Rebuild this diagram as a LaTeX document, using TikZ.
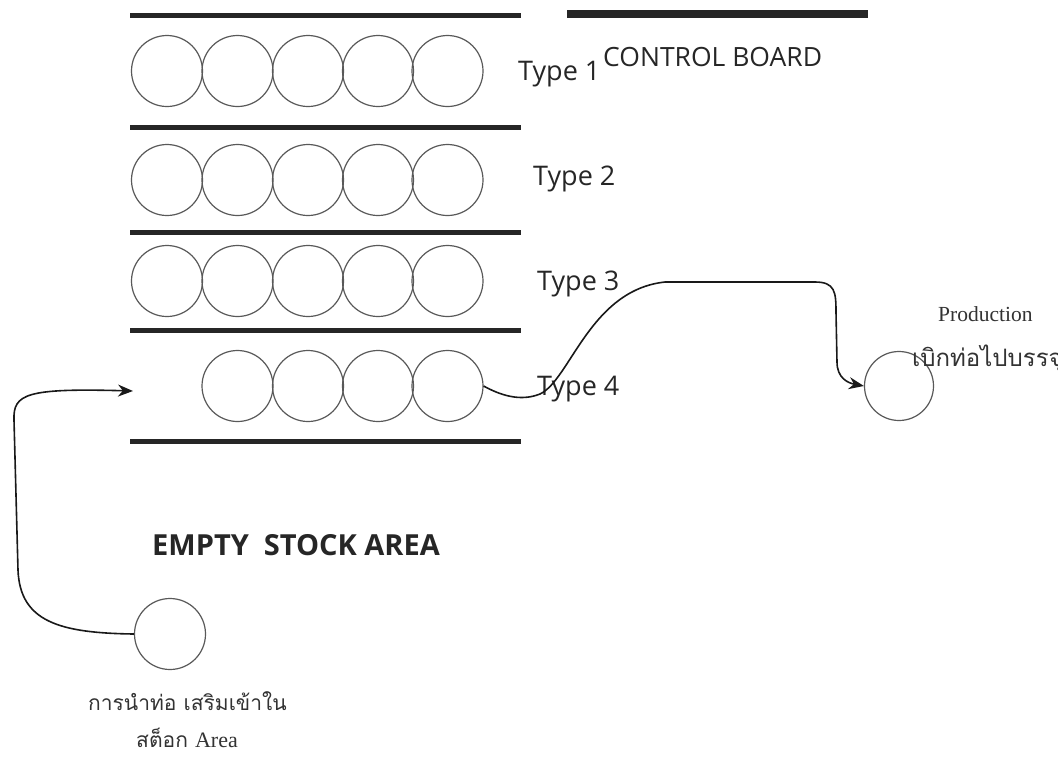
\documentclass[tikz,border=0pt]{standalone}
\usepackage{fontspec}
\setmainfont{Liberation Serif}
\newfontfamily\labelfont{Open Sans}
\newfontfamily\thaifont[Script=Thai]{Loma}
\usetikzlibrary{arrows.meta}

\tikzset{
  pipe/.style={circle, draw=black!65, line width=1.2pt, minimum size=71pt, inner sep=0pt},
  shelf/.style={line width=5pt, draw=black!85},
  board/.style={line width=8pt, draw=black!85},
  typelabel/.style={anchor=base west, inner sep=0pt, text=black!85,
    font=\labelfont\fontsize{27}{32}\selectfont},
  flow/.style={line width=1.6pt, draw=black!90, -{Stealth[length=15pt, width=12pt]}},
  thai/.style={anchor=base west, inner sep=0pt, text=black!80,
    font=\thaifont\fontsize{21}{25}\selectfont},
}

\begin{document}
\begin{tikzpicture}[x=1pt, y=-1pt]
\useasboundingbox (0,0) rectangle (1058,756);
\fill[white] (0,0) rectangle (1058,756);

% shelf dividers
\coordinate (s0l) at (130,15);  \coordinate (s0r) at (521,15);
\coordinate (s1l) at (130,127); \coordinate (s1r) at (521,127);
\coordinate (s2l) at (130,232); \coordinate (s2r) at (521,232);
\coordinate (s3l) at (130,330); \coordinate (s3r) at (521,330);
\coordinate (s4l) at (130,441); \coordinate (s4r) at (521,441);
\foreach \i in {0,...,4} \draw[shelf] (s\i l) -- (s\i r);

% control board bar
\coordinate (cbl) at (567,14); \coordinate (cbr) at (868,14);
\draw[board] (cbl) -- (cbr);

% pipes in stock, rows 1-3 full, row 4 missing the first slot
\foreach \r/\y in {1/71, 2/180, 3/281} {
  \foreach \c/\x in {1/167, 2/237.5, 3/308, 4/378, 5/447.5} {
    \node[pipe] (p\r-\c) at (\x,\y) {};
  }
}
\foreach \c/\x in {2/237.5, 3/308, 4/378, 5/447.5} {
  \node[pipe] (p4-\c) at (\x,386) {};
}

% row labels
\node[typelabel] (t1) at (518,80) {Type 1};
\node[typelabel, font=\labelfont\fontsize{26.5}{32}\selectfont] (cb) at (603,66) {CONTROL BOARD};
\node[typelabel] (t2) at (533,185) {Type 2};
\node[typelabel] (t3) at (537,290) {Type 3};
\node[typelabel] (t4) at (537,395) {Type 4};

% empty stock area
\node[anchor=base west, inner sep=0pt, text=black!85,
  font=\labelfont\bfseries\fontsize{29}{34}\selectfont] (empty) at (152,555) {EMPTY\ \ STOCK AREA};

% incoming pipe
\node[pipe] (inbox) at (170,634) {};
\node[thai] (inlbl1) at (88,710) {การนำท่อ เสริมเข้าใน};
\node[thai] (inlbl2) at (136,747) {สต็อก {\rmfamily\fontsize{22}{26}\selectfont Area}};

% production pipe
\node[pipe, minimum size=69pt] (prod) at (899,386) {};
\node[anchor=base west, inner sep=0pt, text=black!80,
  font=\rmfamily\fontsize{21.5}{26}\selectfont] (prodlbl) at (938,321) {Production};
\node[thai, font=\thaifont\fontsize{24}{28}\selectfont] (prodthai) at (912,366) {เบิกท่อไปบรรจุ};

% flow: new pipe into the empty slot
\coordinate (slot) at (133,391);
\draw[flow] (inbox.west) .. controls (60,633) and (20,622) .. (18,570)
  -- (14,420) .. controls (13,394) and (26,388) .. (slot);

% flow: pipe out to production
\draw[flow] (p4-5.east) .. controls (500,395) and (520,402) .. (540,394)
  .. controls (570,380) and (590,290) .. (665,282)
  -- (815,282) .. controls (835,282) and (836,292) .. (836,312)
  -- (837,362) .. controls (837,378) and (848,383) .. (prod.west);
\end{tikzpicture}
\end{document}
